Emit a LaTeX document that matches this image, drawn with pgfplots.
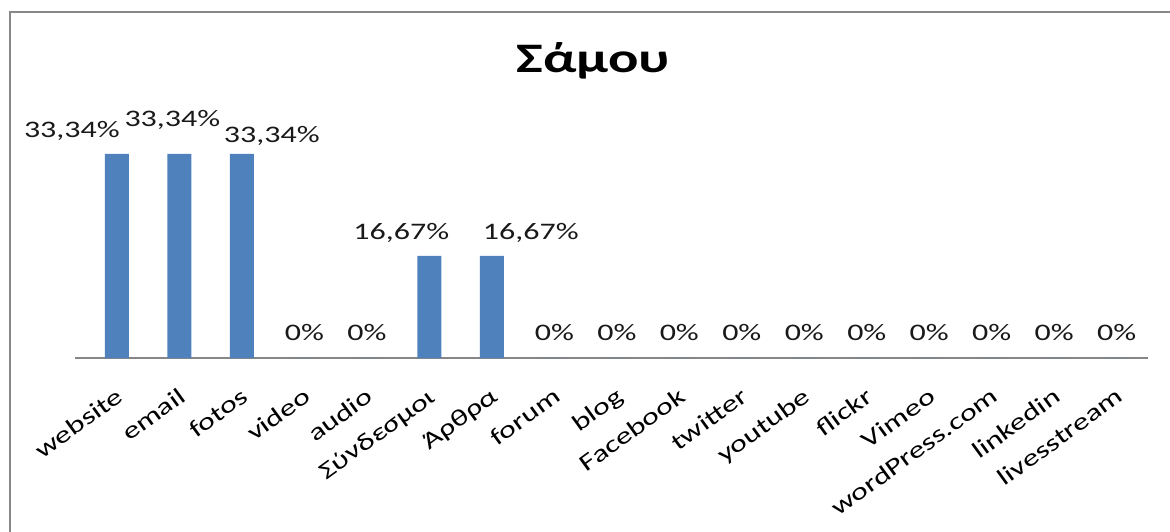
\documentclass[border=0pt]{standalone}
\usepackage{fontspec}
\setmainfont[FakeStretch=1.35]{Carlito}
\usepackage{pgfplots}
\pgfplotsset{compat=1.18}
\definecolor{barblue}{RGB}{79,129,189}
\definecolor{framegray}{RGB}{136,136,136}
\definecolor{axisgray}{RGB}{134,134,134}

\begin{document}
\begin{tikzpicture}
% page = 1170 x 531 px, 1 px = 0.5pt
\path[use as bounding box] (0,0) rectangle (585pt,-265.5pt);
\draw[framegray, line width=1pt] (5pt,-266pt) -- (5pt,-6pt) -- (586pt,-6pt);
\node[anchor=base, font=\fontsize{21}{25}\selectfont\bfseries] at (296.5pt,-36pt) {Σάμου};

\begin{axis}[
  at={(37.5pt,-179pt)}, anchor=south west,
  scale only axis, width=536.5pt, height=122.4pt,
  xmin=-0.67, xmax=16.5, ymin=0, ymax=40,
  clip=false,
  axis y line=none, axis x line*=bottom,
  x axis line style={axisgray, line width=0.75pt, -},
  xtick={0,...,16}, xtick style={draw=none},
  xticklabels={website,email,fotos,video,audio,Σύνδεσμοι,Άρθρα,forum,blog,Facebook,twitter,youtube,flickr,Vimeo,wordPress.com,linkedin,livesstream},
  xticklabel style={xshift=-1pt, yshift=-14pt, rotate=36, anchor=north east, inner sep=0pt,
    font=\fontsize{11.85}{14}\selectfont},
  ytick=\empty,
  every node near coord/.append style={font=\fontsize{11.85}{14}\selectfont, anchor=base, inner sep=0pt, text=black!90},
]
\addplot[ybar, bar width=12pt, fill=barblue, draw=none] coordinates {
  (0,33.34) (1,33.34) (2,33.34) (3,0) (4,0) (5,16.67) (6,16.67) (7,0) (8,0)
  (9,0) (10,0) (11,0) (12,0) (13,0) (14,0) (15,0) (16,0)};

% data labels (shifted as in the original to avoid overlap)
\addplot[draw=none, mark=none, point meta=explicit symbolic, nodes near coords=\pgfplotspointmeta,
  nodes near coords style={xshift=-22.5pt, yshift=8pt}] coordinates {(0,33.34) [33,34\%]};
\addplot[draw=none, mark=none, point meta=explicit symbolic, nodes near coords=\pgfplotspointmeta,
  nodes near coords style={xshift=-3.5pt, yshift=13.5pt}] coordinates {(1,33.34) [33,34\%]};
\addplot[draw=none, mark=none, point meta=explicit symbolic, nodes near coords=\pgfplotspointmeta,
  nodes near coords style={xshift=15pt, yshift=5.5pt}] coordinates {(2,33.34) [33,34\%]};
\addplot[draw=none, mark=none, point meta=explicit symbolic, nodes near coords=\pgfplotspointmeta,
  nodes near coords style={xshift=-14pt, yshift=8pt}] coordinates {(5,16.67) [16,67\%]};
\addplot[draw=none, mark=none, point meta=explicit symbolic, nodes near coords=\pgfplotspointmeta,
  nodes near coords style={xshift=19.5pt, yshift=8pt}] coordinates {(6,16.67) [16,67\%]};
\addplot[draw=none, mark=none, point meta=explicit symbolic, nodes near coords=\pgfplotspointmeta,
  nodes near coords style={yshift=8.75pt}] coordinates {
  (3,0) [0\%] (4,0) [0\%] (7,0) [0\%] (8,0) [0\%] (9,0) [0\%] (10,0) [0\%]
  (11,0) [0\%] (12,0) [0\%] (13,0) [0\%] (14,0) [0\%] (15,0) [0\%] (16,0) [0\%]};
\end{axis}
\end{tikzpicture}
\end{document}
